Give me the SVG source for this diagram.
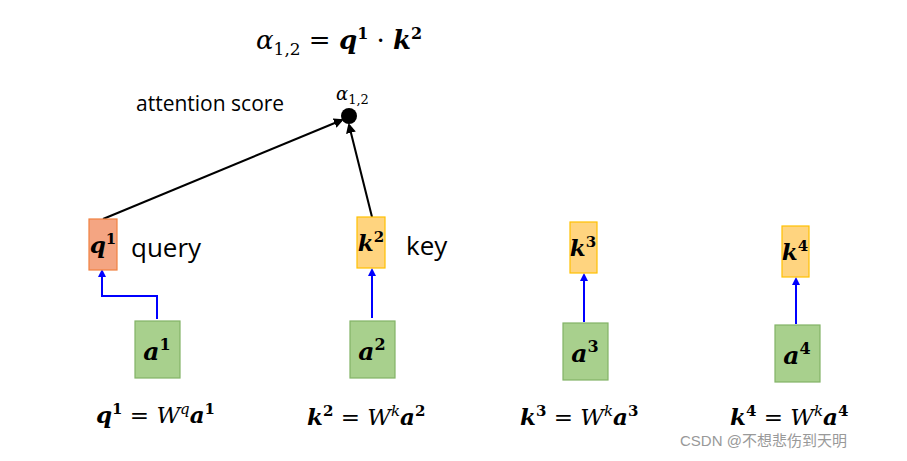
<svg xmlns="http://www.w3.org/2000/svg" width="907" height="461" viewBox="0 0 907 461">
<style>
.m{font-family:"DejaVu Serif","Liberation Serif",serif;font-style:italic;fill:#000}
.b{font-weight:bold}
.t{font-family:"Open Sans","Liberation Sans",sans-serif;fill:#000}
.a{fill:#a8d08d;stroke:#82b366;stroke-width:1.2}
.k{fill:#ffd47f;stroke:#ffc000;stroke-width:1.2}
.q{fill:#f4a582;stroke:#f08040;stroke-width:1.2}
.bl{stroke:#0000ff;stroke-width:2;fill:none;marker-end:url(#ab)}
.bk{stroke:#000;stroke-width:2;fill:none;marker-end:url(#ak)}
</style>
<defs>
<marker id="ab" markerWidth="8" markerHeight="8" refX="6" refY="4" orient="auto" markerUnits="userSpaceOnUse"><path d="M0,0L8,4L0,8z" fill="#0000ff"/></marker>
<marker id="ak" markerWidth="10" markerHeight="10" refX="8" refY="5" orient="auto" markerUnits="userSpaceOnUse"><path d="M0,0L10,5L0,10z" fill="#000"/></marker>
</defs>
<rect width="907" height="461" fill="#fff"/>
<text x="256" y="49" class="m" font-size="26">α<tspan font-size="17" dy="6" font-style="normal">1,2</tspan><tspan dy="-6" font-style="normal"> = </tspan><tspan class="b">q</tspan><tspan font-size="16" dy="-10" class="b" font-style="normal">1</tspan><tspan dy="10" font-style="normal"> · </tspan><tspan class="b">k</tspan><tspan font-size="16" dy="-10" class="b" font-style="normal">2</tspan></text>
<text x="136" y="111" class="t" font-size="21">attention score</text>
<text x="336" y="100" class="m" font-size="18">α<tspan font-size="13" dy="4" font-style="normal">1,2</tspan></text>
<g id="connectors">
<line x1="103" y1="219" x2="342" y2="120" class="bk"/>
<line x1="372" y1="217" x2="349" y2="125" class="bk"/>
<path d="M157,319V296H102V271" class="bl"/>
<line x1="372" y1="318" x2="372" y2="270" class="bl"/>
<line x1="584" y1="322" x2="584" y2="275" class="bl"/>
<line x1="796" y1="324" x2="796" y2="279" class="bl"/>
</g>
<g id="score"><circle cx="349" cy="116" r="8" fill="#000"/></g>
<g id="q1"><rect x="89" y="219" width="28" height="51" class="q"/><text x="103" y="253" class="m b" font-size="23" text-anchor="middle">q<tspan font-size="15" dy="-9" font-style="normal">1</tspan></text></g>
<text x="131" y="257" class="t" font-size="26">query</text>
<g id="k2"><rect x="357" y="217" width="28" height="51" class="k"/><text x="371" y="251" class="m b" font-size="23" text-anchor="middle">k<tspan font-size="15" dy="-9" font-style="normal">2</tspan></text></g>
<text x="406" y="255" class="t" font-size="26">key</text>
<g id="k3"><rect x="570" y="222" width="27" height="51" class="k"/><text x="583" y="256" class="m b" font-size="23" text-anchor="middle">k<tspan font-size="15" dy="-9" font-style="normal">3</tspan></text></g>
<g id="k4"><rect x="782" y="226" width="27" height="51" class="k"/><text x="795" y="260" class="m b" font-size="23" text-anchor="middle">k<tspan font-size="15" dy="-9" font-style="normal">4</tspan></text></g>
<g id="a1"><rect x="135" y="321" width="45" height="57" class="a"/><text x="157" y="360" class="m b" font-size="25" text-anchor="middle">a<tspan font-size="16" dy="-10" font-style="normal">1</tspan></text></g>
<g id="a2"><rect x="350" y="321" width="45" height="57" class="a"/><text x="372" y="360" class="m b" font-size="25" text-anchor="middle">a<tspan font-size="16" dy="-10" font-style="normal">2</tspan></text></g>
<g id="a3"><rect x="563" y="323" width="45" height="57" class="a"/><text x="585" y="362" class="m b" font-size="25" text-anchor="middle">a<tspan font-size="16" dy="-10" font-style="normal">3</tspan></text></g>
<g id="a4"><rect x="775" y="325" width="45" height="57" class="a"/><text x="797" y="364" class="m b" font-size="25" text-anchor="middle">a<tspan font-size="16" dy="-10" font-style="normal">4</tspan></text></g>
<g font-size="23">
<text x="96" y="423" class="m"><tspan class="b">q</tspan><tspan class="b" font-size="15" dy="-9" font-style="normal">1</tspan><tspan dy="9" font-style="normal"> = </tspan>W<tspan font-size="15" dy="-9">q</tspan><tspan dy="9" class="b">a</tspan><tspan class="b" font-size="15" dy="-9" font-style="normal">1</tspan></text>
<text x="307" y="425" class="m"><tspan class="b">k</tspan><tspan class="b" font-size="15" dy="-9" font-style="normal">2</tspan><tspan dy="9" font-style="normal"> = </tspan>W<tspan font-size="15" dy="-9">k</tspan><tspan dy="9" class="b">a</tspan><tspan class="b" font-size="15" dy="-9" font-style="normal">2</tspan></text>
<text x="520" y="425" class="m"><tspan class="b">k</tspan><tspan class="b" font-size="15" dy="-9" font-style="normal">3</tspan><tspan dy="9" font-style="normal"> = </tspan>W<tspan font-size="15" dy="-9">k</tspan><tspan dy="9" class="b">a</tspan><tspan class="b" font-size="15" dy="-9" font-style="normal">3</tspan></text>
<text x="730" y="425" class="m"><tspan class="b">k</tspan><tspan class="b" font-size="15" dy="-9" font-style="normal">4</tspan><tspan dy="9" font-style="normal"> = </tspan>W<tspan font-size="15" dy="-9">k</tspan><tspan dy="9" class="b">a</tspan><tspan class="b" font-size="15" dy="-9" font-style="normal">4</tspan></text>
</g>
<text x="680" y="446" font-family="'Liberation Sans','Noto Sans CJK SC',sans-serif" font-size="15" fill="#999">CSDN @不想悲伤到天明</text>
</svg>
